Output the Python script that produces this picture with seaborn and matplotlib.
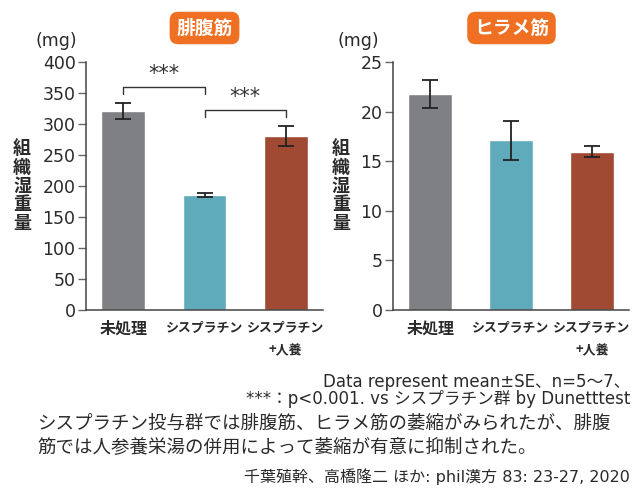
import matplotlib
matplotlib.use("Agg")
import matplotlib.pyplot as plt
import seaborn as sns
import pandas as pd

sns.set_theme(style="white")
plt.rcParams['font.family'] = ['Noto Sans CJK JP', 'DejaVu Sans']

# Data
groups = ["未処理", "シスプラチン", "シスプラチン\n+人養"]
gastro_mean = [321, 186, 280]
gastro_se = [13.5, 3, 16]
soleus_mean = [21.8, 17.1, 15.95]
soleus_se = [1.4, 2.0, 0.55]
bar_colors = ["#7f8084", "#5faabb", "#a04a33"]
gastro_ticks = [0, 50, 100, 150, 200, 250, 300, 350, 400]
soleus_ticks = [0, 5, 10, 15, 20, 25]
label_sizes = [11.5, 9.3, 9.3]
orange = "#f07023"
text_col = "#2a2a2a"
latin_first = ['DejaVu Sans', 'Noto Sans CJK JP']

fig = plt.figure(figsize=(6.44, 4.98), dpi=100)
W, H = 644, 498


def px_axes(x0, y0, x1, y1):
    return fig.add_axes([x0 / W, 1 - y1 / H, (x1 - x0) / W, (y1 - y0) / H])


def draw_panel(ax, means, ses, ticks, ylim):
    df = pd.DataFrame({"group": groups, "value": means})
    sns.barplot(data=df, x="group", y="value", hue="group", palette=bar_colors,
                width=0.54, errorbar=None, legend=False, ax=ax, saturation=1)
    ax.errorbar(range(len(means)), means, yerr=ses, fmt="none", ecolor="#222222",
                elinewidth=1.3, capsize=5.5, capthick=1.3, zorder=5)
    ax.set_xlim(-0.46, 2.46)
    ax.set_ylim(*ylim)
    ax.set_yticks(ticks)
    ax.set_yticklabels([str(t) for t in ticks], fontsize=12.5, color=text_col,
                       family="DejaVu Sans")
    ax.set_xticks(range(len(groups)))
    ax.set_xticklabels(groups, color=text_col, weight="bold",
                       linespacing=1.75, va="top")
    for lab, fs in zip(ax.get_xticklabels(), label_sizes):
        lab.set_fontsize(fs)
    ax.set_xlabel("")
    ax.set_ylabel("")
    for s in ["top", "right"]:
        ax.spines[s].set_visible(False)
    for s in ["left", "bottom"]:
        ax.spines[s].set_color("#444444")
        ax.spines[s].set_linewidth(1.1)
    ax.tick_params(axis="y", length=5.5, width=1, color="#666666", pad=2, left=True)
    ax.tick_params(axis="x", length=0, pad=8)


ax1 = px_axes(86, 62, 323, 310)
draw_panel(ax1, gastro_mean, gastro_se, gastro_ticks, (0, 400))
ax2 = px_axes(393, 62, 629, 310)
draw_panel(ax2, soleus_mean, soleus_se, soleus_ticks, (0, 25))

# Significance brackets (left panel)
brackets = [(0, 1, 360, 349, "***"), (1, 2, 322, 311, "***")]
for xa, xb, top, drop, label in brackets:
    ax1.plot([xa, xa, xb, xb], [drop, top, top, drop], color="#333333", lw=1.0,
             clip_on=False)
    ax1.text((xa + xb) / 2, top + 5, label, ha="center", va="bottom",
             fontsize=15, color="#333333", family="DejaVu Sans")

# Panel titles in orange rounded boxes
for cx, txt in [(204.5, "腓腹筋"), (511.5, "ヒラメ筋")]:
    fig.text(cx / W, 1 - 28 / H, txt, ha="center", va="center", fontsize=13.5,
             weight="bold", color="white",
             bbox=dict(boxstyle="round,pad=0.36,rounding_size=0.45", fc=orange,
                       ec="none"))

# Units and vertical y labels
for ux, lx in [(56, 22), (358, 341)]:
    fig.text(ux / W, 1 - 41 / H, "(mg)", ha="center", va="center",
             fontsize=12.5, color=text_col, family="DejaVu Sans")
    fig.text(lx / W, 1 - 186 / H, "\n".join("組織湿重量"), ha="center",
             va="center", fontsize=13, weight="bold", color=text_col,
             linespacing=0.98)

# Notes
fig.text(630 / W, 1 - 382 / H, "Data represent mean±SE、n=5〜7、", ha="right",
         va="center", fontsize=12, color=text_col, family=latin_first)
fig.text(630 / W, 1 - 399 / H, "***：p<0.001. vs シスプラチン群 by Dunetttest",
         ha="right", va="center", fontsize=12, color=text_col,
         family=latin_first)
fig.text(37 / W, 1 - 424 / H,
         "シスプラチン投与群では腓腹筋、ヒラメ筋の萎縮がみられたが、腓腹",
         ha="left", va="center", fontsize=13.3, color=text_col)
fig.text(37 / W, 1 - 448 / H,
         "筋では人参養栄湯の併用によって萎縮が有意に抑制された。",
         ha="left", va="center", fontsize=13.3, color=text_col)
fig.text(630 / W, 1 - 477 / H, "千葉殖幹、高橋隆二 ほか: phil漢方 83: 23-27, 2020",
         ha="right", va="center", fontsize=11.5, color=text_col,
         family=latin_first)

fig.savefig("out.png", dpi=100)
